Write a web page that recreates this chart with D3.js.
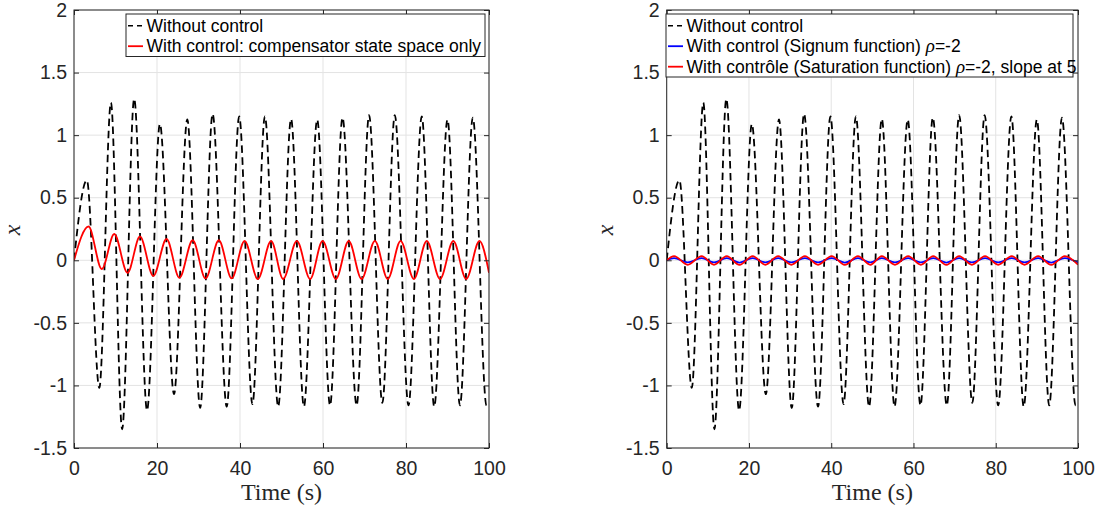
<!DOCTYPE html>
<html>
<head>
<meta charset="utf-8">
<script src="https://cdn.jsdelivr.net/npm/d3@7"></script>
<style>
  body { margin: 0; background: #fff; }
  svg { display: block; }
</style>
</head>
<body>
<svg id="chart" width="1107" height="516"></svg>
<script>
// extrema (time in s, x value)
var blackT = [0, 3.1, 6.1, 8.9, 11.6, 14.5, 17.6, 20.7, 24.1, 27.3, 30.4, 33.4, 36.8, 39.8, 43.0, 46.0, 49.2,
    52.3, 55.4, 58.6, 61.7, 64.7, 68.1, 71.1, 74.3, 77.3, 80.6, 83.8, 86.8, 90.0, 93.0, 96.1, 99.4, 100];
var blackX = [0, 0.64, -1.02, 1.26, -1.35, 1.29, -1.2, 1.09, -1.07, 1.125, -1.18, 1.17, -1.17, 1.15, -1.15, 1.15, -1.17,
    1.13, -1.17, 1.125, -1.16, 1.14, -1.16, 1.16, -1.14, 1.16, -1.16, 1.15, -1.17, 1.125, -1.16, 1.14, -1.16, -1.15];

var compT = [0, 3.5, 6.7, 9.7, 12.9, 15.9, 19.1, 22.3, 25.4, 28.6, 31.7, 34.9, 38.0, 41.1, 44.3, 47.5, 50.4,
    53.7, 56.9, 59.9, 63.1, 66.2, 69.3, 72.5, 75.6, 78.7, 81.9, 85.0, 88.2, 91.4, 94.5, 97.7, 100];
var compX = [0, 0.27, -0.07, 0.21, -0.10, 0.19, -0.125, 0.17, -0.14, 0.16, -0.145, 0.16, -0.145, 0.155, -0.15, 0.155, -0.15,
    0.155, -0.15, 0.155, -0.15, 0.155, -0.15, 0.155, -0.15, 0.155, -0.15, 0.155, -0.15, 0.155, -0.15, 0.155, -0.10];

var smcT = [0, 1.8, 5.1, 8.5, 11.5, 14.6, 17.7, 20.9, 24.0, 27.1, 30.3, 33.6, 36.8, 40.1, 43.3, 46.5, 49.5,
    52.3, 55.5, 58.7, 61.8, 64.8, 68.0, 71.1, 74.2, 77.4, 80.6, 83.9, 87.0, 90.3, 93.5, 96.8, 100];
var signumX = [0, 0.018, -0.017, 0.018, -0.017, 0.017, -0.018, 0.018, -0.017, 0.017, -0.017, 0.018, -0.017, 0.018, -0.018, 0.017, -0.017,
    0.018, -0.017, 0.017, -0.017, 0.018, -0.018, 0.018, -0.017, 0.017, -0.017, 0.018, -0.017, 0.017, -0.018, 0.018, -0.017];
var saturX = [0, 0.034, -0.036, 0.034, -0.036, 0.033, -0.037, 0.034, -0.036, 0.033, -0.036, 0.034, -0.036, 0.034, -0.037, 0.033, -0.036,
    0.034, -0.036, 0.033, -0.036, 0.034, -0.037, 0.034, -0.036, 0.033, -0.036, 0.034, -0.036, 0.033, -0.037, 0.034, -0.035];

var xTicks = [0, 20, 40, 60, 80, 100];
var yTicks = [-1.5, -1, -0.5, 0, 0.5, 1, 1.5, 2];

var axisColor = "#262626";
var sans = "'Liberation Sans', Arial, Helvetica, sans-serif";
var serif = "'Liberation Serif', 'Times New Roman', serif";

function zip(t, v) {
    return t.map(function (d, i) { return { t: d, v: v[i] }; });
}

var svg = d3.select("#chart");

function drawPanel(left, right, series, legendRows, id) {
    var top = 10, bottom = 448;
    var x = d3.scaleLinear().domain([0, 100]).range([left, right]);
    var y = d3.scaleLinear().domain([-1.5, 2]).range([bottom, top]);
    var g = svg.append("g");

    // grid
    g.selectAll(".vgrid").data(xTicks).join("line")
        .attr("x1", d => x(d)).attr("x2", d => x(d))
        .attr("y1", top).attr("y2", bottom)
        .attr("stroke", "#e3e3e3").attr("stroke-width", 1);
    g.selectAll(".hgrid").data(yTicks).join("line")
        .attr("x1", left).attr("x2", right)
        .attr("y1", d => y(d)).attr("y2", d => y(d))
        .attr("stroke", "#e3e3e3").attr("stroke-width", 1);

    // lines
    svg.append("clipPath").attr("id", "clip" + id).append("rect")
        .attr("x", left).attr("y", top).attr("width", right - left).attr("height", bottom - top);
    var line = d3.line().x(d => x(d.t)).y(d => y(d.v)).curve(d3.curveMonotoneX);
    series.forEach(function (s) {
        g.append("path")
            .datum(zip(s.t, s.v))
            .attr("clip-path", "url(#clip" + id + ")")
            .attr("fill", "none")
            .attr("stroke", s.color)
            .attr("stroke-width", s.width)
            .attr("stroke-dasharray", s.dash || null)
            .attr("d", line);
    });

    // axes with inward ticks on all sides
    var fmt = d => String(d);
    g.append("g").attr("transform", `translate(0, ${bottom})`)
        .call(d3.axisBottom(x).tickValues(xTicks).tickFormat(fmt).tickSize(-5).tickPadding(13));
    g.append("g").attr("transform", `translate(${left}, 0)`)
        .call(d3.axisLeft(y).tickValues(yTicks).tickFormat(fmt).tickSize(-5).tickPadding(7));
    g.append("g").attr("transform", `translate(0, ${top})`)
        .call(d3.axisTop(x).tickValues(xTicks).tickFormat("").tickSize(-5));
    g.append("g").attr("transform", `translate(${right}, 0)`)
        .call(d3.axisRight(y).tickValues(yTicks).tickFormat("").tickSize(-5));
    g.selectAll(".domain").remove();
    g.selectAll(".tick line").attr("stroke", axisColor);
    g.selectAll(".tick text").attr("fill", axisColor)
        .style("font-family", sans).style("font-size", "19.5px");

    g.append("rect")
        .attr("x", left).attr("y", top).attr("width", right - left).attr("height", bottom - top)
        .attr("fill", "none").attr("stroke", axisColor).attr("stroke-width", 1);

    // labels
    g.append("text")
        .attr("x", (left + right) / 2).attr("y", 500)
        .attr("text-anchor", "middle")
        .style("font-family", serif).style("font-size", "24px")
        .attr("fill", axisColor)
        .text("Time (s)");
    g.append("text")
        .attr("transform", `translate(${left - 54}, 230) rotate(-90)`)
        .attr("text-anchor", "middle")
        .style("font-family", serif).style("font-size", "24px").style("font-style", "italic")
        .attr("fill", axisColor)
        .text("x");

    // legend
    var lx = legendRows.x, ly = 14;
    var lw = legendRows.w, lh = 22 + 20.5 * (legendRows.items.length - 1);
    var leg = g.append("g");
    leg.append("rect")
        .attr("x", lx).attr("y", ly).attr("width", lw).attr("height", lh)
        .attr("fill", "#fff").attr("stroke", axisColor).attr("stroke-width", 1);
    legendRows.items.forEach(function (it, i) {
        var by = 31.7 + 20.5 * i;
        leg.append("line")
            .attr("x1", lx + 2).attr("x2", lx + 17)
            .attr("y1", by - 6).attr("y2", by - 6)
            .attr("stroke", it.color).attr("stroke-width", it.dash ? 1.6 : 1.8)
            .attr("stroke-dasharray", it.dash ? "5,4" : null);
        var t = leg.append("text")
            .attr("x", lx + 20.5).attr("y", by)
            .style("font-family", sans).style("font-size", "17.5px")
            .attr("fill", "#000");
        it.parts.forEach(function (p) {
            var sp = t.append("tspan").text(p.s);
            if (p.math) sp.style("font-family", serif).style("font-style", "italic").style("font-size", "19px");
        });
    });
}

drawPanel(74, 489, [
    { t: blackT, v: blackX, color: "#000", width: 1.8, dash: "7.5,4.5" },
    { t: compT, v: compX, color: "#ff0000", width: 1.8 }
], {
    x: 126, w: 359,
    items: [
        { color: "#000", dash: true, parts: [{ s: "Without control" }] },
        { color: "#ff0000", parts: [{ s: "With control: compensator state space only" }] }
    ]
}, 1);

drawPanel(666.7, 1078, [
    { t: blackT, v: blackX, color: "#000", width: 1.8, dash: "7.5,4.5" },
    { t: smcT, v: signumX, color: "#0000ff", width: 1.8 },
    { t: smcT, v: saturX, color: "#ff0000", width: 1.8 }
], {
    x: 666, w: 407,
    items: [
        { color: "#000", dash: true, parts: [{ s: "Without control" }] },
        { color: "#0000ff", parts: [{ s: "With control (Signum function) " }, { s: "ρ", math: true }, { s: "=-2" }] },
        { color: "#ff0000", parts: [{ s: "With contrôle (Saturation function) " }, { s: "ρ", math: true }, { s: "=-2, slope at 5" }] }
    ]
}, 2);
</script>
</body>
</html>
